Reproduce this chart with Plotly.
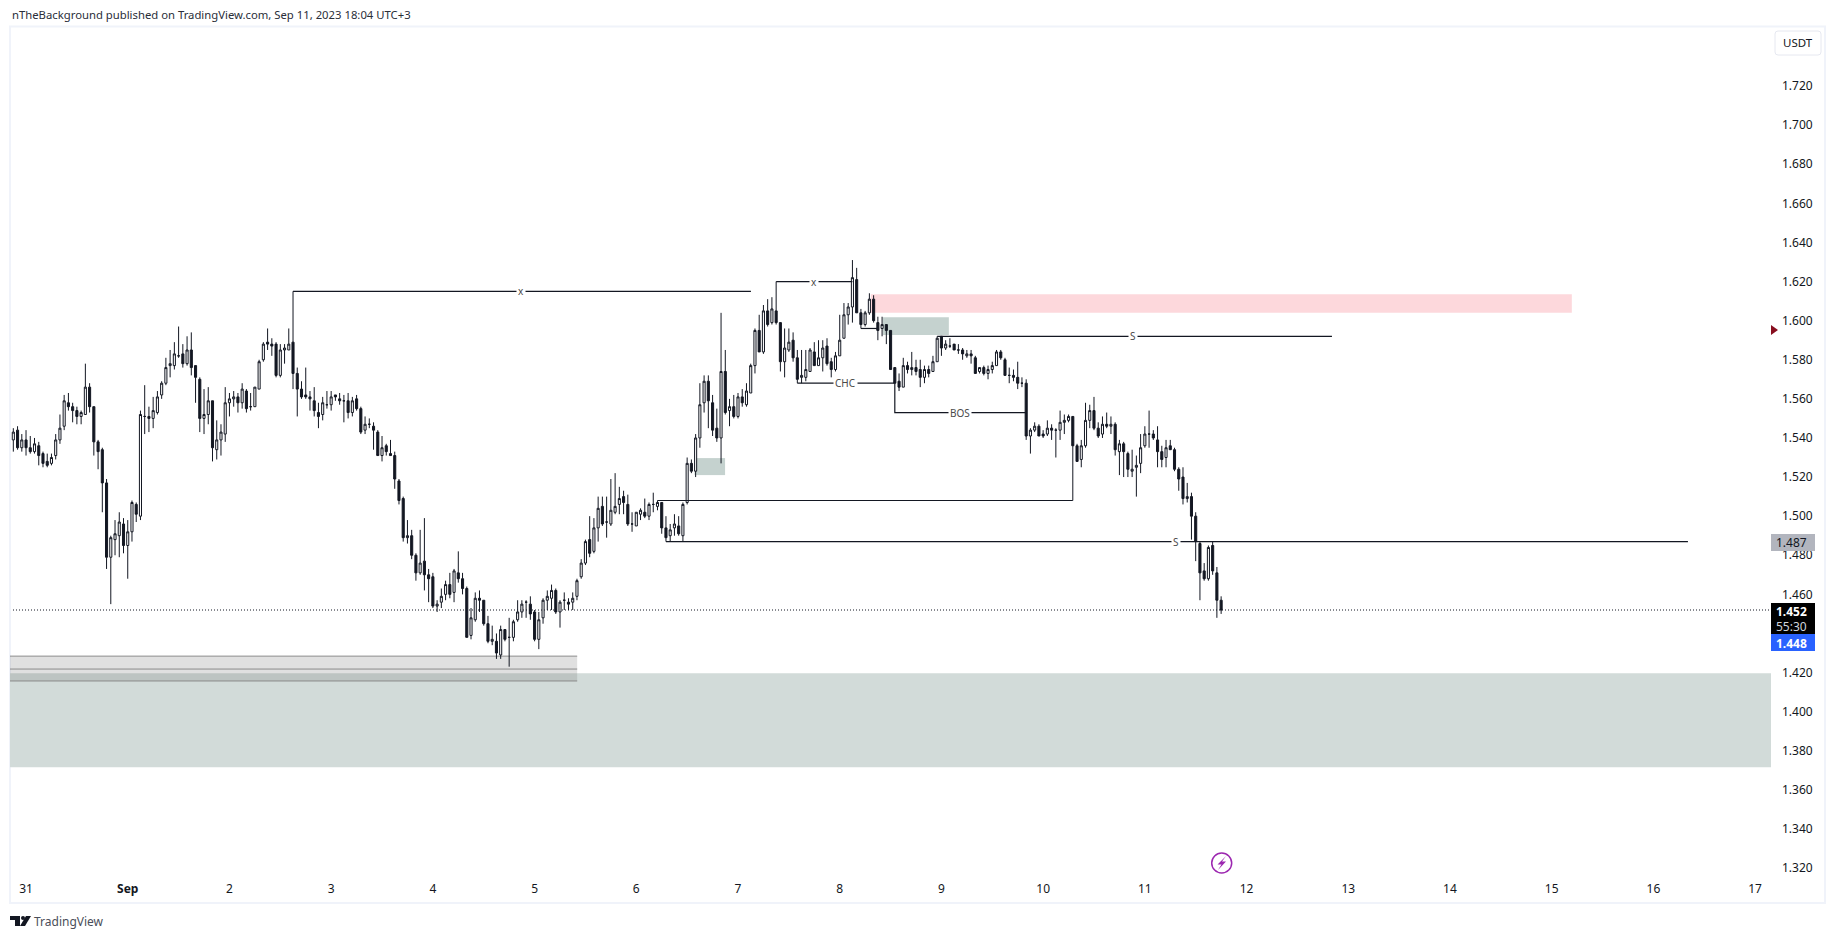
import pandas as pd
import plotly.graph_objects as go

W, H = 1835, 939
FONT = "Noto Sans"
INK = "#131722"

# Hourly candles, Aug 30 21:00 to Sep 11 18:00 (2023), USDT
start_time = "2023-08-30 21:00"
open_ = [
1.539,1.544,1.535,1.539,1.535,1.533,1.536,1.532,1.528,1.527,
1.531,1.539,1.546,1.558,1.556,1.554,1.551,1.552,1.566,1.556,
1.538,1.534,1.517,1.479,1.488,1.490,1.496,1.485,1.492,1.506,
1.500,1.551,1.551,1.550,1.553,1.562,1.568,1.577,1.577,1.582,
1.583,1.578,1.585,1.577,1.570,1.550,1.552,1.559,1.534,1.539,
1.542,1.558,1.560,1.561,1.558,1.564,1.556,1.556,1.565,1.580,
1.589,1.588,1.588,1.572,1.585,1.585,1.589,1.573,1.565,1.562,
1.561,1.559,1.553,1.552,1.557,1.557,1.562,1.560,1.559,1.559,
1.553,1.560,1.555,1.544,1.547,1.546,1.543,1.531,1.536,1.532,
1.531,1.518,1.509,1.489,1.490,1.480,1.471,1.477,1.470,1.469,
1.454,1.456,1.460,1.465,1.461,1.471,1.468,1.463,1.439,1.447,
1.458,1.457,1.445,1.436,1.436,1.429,1.442,1.438,1.438,1.447,
1.451,1.456,1.455,1.451,1.437,1.448,1.457,1.458,1.462,1.451,
1.457,1.456,1.456,1.459,1.469,1.476,1.488,1.482,1.494,1.505,
1.497,1.496,1.502,1.506,1.510,1.506,1.496,1.495,1.501,1.502,
1.500,1.506,1.505,1.507,1.494,1.490,1.494,1.495,1.490,1.507,
1.527,1.523,1.540,1.558,1.569,1.558,1.545,1.540,1.574,1.554,
1.556,1.551,1.561,1.557,1.563,1.577,1.595,1.584,1.605,1.599,
1.605,1.599,1.579,1.585,1.590,1.581,1.571,1.571,1.574,1.584,
1.577,1.581,1.587,1.579,1.575,1.582,1.591,1.603,1.607,1.621,
1.604,1.598,1.604,1.611,1.599,1.596,1.598,1.595,1.576,1.569,
1.566,1.577,1.575,1.576,1.575,1.571,1.575,1.574,1.579,1.592,
1.586,1.587,1.588,1.585,1.585,1.582,1.583,1.581,1.574,1.576,
1.573,1.575,1.577,1.584,1.580,1.572,1.572,1.571,1.568,1.568,
1.541,1.544,1.546,1.542,1.542,1.545,1.544,1.544,1.548,1.549,
1.551,1.536,1.529,1.536,1.549,1.554,1.545,1.542,1.547,1.546,
1.547,1.533,1.537,1.532,1.523,1.525,1.527,1.536,1.542,1.542,
1.539,1.533,1.530,1.536,1.534,1.524,1.520,1.509,1.510,1.500,
1.486,1.472,1.468,1.485,1.471,1.457]
high = [
1.545,1.546,1.542,1.544,1.541,1.540,1.538,1.533,1.532,1.532,
1.542,1.552,1.562,1.563,1.558,1.556,1.554,1.578,1.568,1.556,
1.539,1.535,1.519,1.490,1.498,1.502,1.499,1.498,1.508,1.507,
1.554,1.567,1.556,1.561,1.564,1.569,1.581,1.585,1.589,1.597,
1.588,1.592,1.594,1.577,1.571,1.565,1.566,1.559,1.549,1.547,
1.566,1.563,1.564,1.563,1.568,1.565,1.563,1.566,1.580,1.589,
1.596,1.591,1.589,1.588,1.588,1.596,1.615,1.576,1.569,1.576,
1.564,1.566,1.558,1.561,1.564,1.564,1.562,1.563,1.562,1.563,
1.561,1.562,1.556,1.551,1.550,1.548,1.544,1.541,1.537,1.539,
1.533,1.519,1.510,1.498,1.493,1.481,1.493,1.499,1.473,1.471,
1.457,1.463,1.467,1.471,1.473,1.482,1.471,1.464,1.453,1.461,
1.462,1.457,1.449,1.444,1.440,1.444,1.442,1.448,1.447,1.457,
1.457,1.457,1.459,1.452,1.451,1.458,1.462,1.465,1.463,1.457,
1.461,1.458,1.461,1.468,1.478,1.488,1.500,1.499,1.510,1.510,
1.510,1.519,1.522,1.515,1.513,1.511,1.502,1.502,1.504,1.509,
1.507,1.512,1.508,1.507,1.500,1.496,1.501,1.500,1.507,1.530,
1.529,1.542,1.568,1.572,1.572,1.562,1.555,1.604,1.585,1.560,
1.562,1.563,1.565,1.568,1.578,1.596,1.603,1.608,1.611,1.612,
1.620,1.599,1.596,1.596,1.594,1.585,1.585,1.585,1.586,1.589,
1.590,1.590,1.591,1.581,1.584,1.603,1.609,1.609,1.631,1.627,
1.606,1.605,1.614,1.613,1.602,1.602,1.598,1.595,1.576,1.573,
1.581,1.579,1.584,1.580,1.580,1.577,1.577,1.582,1.592,1.592,
1.590,1.591,1.588,1.588,1.586,1.585,1.585,1.582,1.576,1.577,
1.577,1.579,1.585,1.585,1.581,1.576,1.575,1.579,1.571,1.570,
1.545,1.548,1.547,1.544,1.549,1.547,1.545,1.554,1.552,1.552,
1.551,1.537,1.539,1.558,1.557,1.561,1.548,1.551,1.553,1.551,
1.548,1.539,1.538,1.533,1.534,1.531,1.542,1.546,1.554,1.544,
1.546,1.536,1.539,1.539,1.535,1.525,1.525,1.517,1.512,1.502,
1.487,1.476,1.485,1.487,1.474,1.459]
low = [
1.533,1.534,1.533,1.531,1.532,1.532,1.526,1.525,1.525,1.526,
1.529,1.537,1.544,1.554,1.548,1.547,1.547,1.552,1.553,1.531,
1.524,1.502,1.473,1.455,1.480,1.479,1.481,1.468,1.487,1.497,
1.498,1.542,1.543,1.545,1.552,1.560,1.567,1.571,1.575,1.581,
1.576,1.577,1.572,1.558,1.543,1.542,1.547,1.528,1.529,1.531,
1.538,1.551,1.556,1.553,1.555,1.553,1.554,1.556,1.565,1.579,
1.585,1.582,1.571,1.571,1.578,1.585,1.565,1.551,1.560,1.560,
1.554,1.551,1.545,1.549,1.555,1.554,1.559,1.557,1.548,1.550,
1.551,1.554,1.542,1.542,1.545,1.534,1.531,1.528,1.531,1.531,
1.514,1.506,1.487,1.486,1.478,1.467,1.470,1.462,1.456,1.453,
1.451,1.453,1.457,1.458,1.456,1.466,1.460,1.438,1.437,1.446,
1.451,1.444,1.435,1.434,1.427,1.427,1.436,1.423,1.436,1.446,
1.448,1.448,1.447,1.436,1.432,1.445,1.452,1.452,1.450,1.443,
1.452,1.452,1.452,1.457,1.468,1.475,1.479,1.481,1.487,1.495,
1.489,1.495,1.501,1.501,1.501,1.495,1.492,1.495,1.498,1.499,
1.498,1.502,1.503,1.491,1.487,1.487,1.490,1.490,1.487,1.506,
1.522,1.520,1.535,1.553,1.545,1.541,1.538,1.527,1.552,1.546,
1.550,1.550,1.556,1.556,1.563,1.573,1.584,1.583,1.597,1.598,
1.598,1.574,1.571,1.584,1.579,1.568,1.568,1.569,1.574,1.577,
1.577,1.574,1.577,1.571,1.574,1.582,1.591,1.598,1.599,1.604,
1.596,1.597,1.603,1.599,1.590,1.592,1.588,1.575,1.568,1.564,
1.566,1.573,1.572,1.572,1.566,1.568,1.571,1.574,1.579,1.582,
1.585,1.586,1.585,1.583,1.580,1.581,1.578,1.573,1.573,1.572,
1.570,1.573,1.577,1.580,1.572,1.568,1.569,1.565,1.566,1.539,
1.532,1.543,1.541,1.540,1.541,1.539,1.530,1.539,1.542,1.548,
1.508,1.528,1.525,1.535,1.545,1.544,1.540,1.540,1.545,1.542,
1.531,1.521,1.520,1.520,1.520,1.510,1.522,1.535,1.535,1.539,
1.525,1.525,1.525,1.534,1.523,1.513,1.506,1.507,1.488,1.477,
1.457,1.467,1.467,1.470,1.448,1.450]
close = [
1.543,1.535,1.539,1.535,1.533,1.537,1.531,1.527,1.526,1.530,
1.539,1.545,1.559,1.556,1.554,1.551,1.553,1.566,1.556,1.538,
1.533,1.517,1.479,1.489,1.491,1.497,1.485,1.492,1.507,1.501,
1.552,1.551,1.550,1.554,1.561,1.568,1.576,1.578,1.583,1.582,
1.578,1.585,1.576,1.571,1.550,1.552,1.559,1.535,1.539,1.543,
1.558,1.560,1.561,1.558,1.565,1.555,1.556,1.566,1.579,1.588,
1.588,1.587,1.572,1.585,1.586,1.588,1.573,1.565,1.561,1.561,
1.560,1.554,1.551,1.558,1.557,1.561,1.561,1.559,1.559,1.553,
1.559,1.555,1.543,1.547,1.547,1.544,1.531,1.535,1.533,1.531,
1.519,1.508,1.489,1.490,1.480,1.471,1.476,1.470,1.468,1.454,
1.455,1.459,1.465,1.460,1.472,1.468,1.463,1.438,1.448,1.458,
1.457,1.445,1.436,1.437,1.430,1.442,1.437,1.438,1.446,1.451,
1.455,1.456,1.450,1.437,1.447,1.457,1.459,1.462,1.451,1.456,
1.457,1.455,1.458,1.467,1.476,1.487,1.481,1.494,1.504,1.496,
1.497,1.503,1.505,1.509,1.507,1.496,1.496,1.502,1.503,1.500,
1.506,1.506,1.507,1.494,1.489,1.493,1.496,1.491,1.506,1.527,
1.523,1.540,1.557,1.569,1.559,1.544,1.540,1.574,1.553,1.556,
1.551,1.561,1.558,1.564,1.577,1.595,1.584,1.605,1.598,1.606,
1.599,1.579,1.586,1.589,1.581,1.570,1.572,1.575,1.585,1.577,
1.581,1.586,1.578,1.575,1.582,1.590,1.603,1.607,1.622,1.604,
1.598,1.604,1.611,1.600,1.595,1.598,1.595,1.575,1.568,1.566,
1.577,1.575,1.576,1.574,1.571,1.575,1.573,1.579,1.591,1.586,
1.588,1.587,1.585,1.585,1.583,1.583,1.582,1.573,1.576,1.573,
1.575,1.577,1.584,1.581,1.572,1.572,1.571,1.568,1.568,1.541,
1.544,1.546,1.541,1.541,1.545,1.544,1.544,1.548,1.549,1.551,
1.536,1.528,1.536,1.549,1.554,1.545,1.541,1.547,1.546,1.547,
1.534,1.537,1.533,1.524,1.524,1.526,1.535,1.542,1.542,1.540,
1.533,1.529,1.535,1.534,1.524,1.519,1.509,1.510,1.500,1.487,
1.471,1.468,1.484,1.472,1.457,1.452]

# Axis labels
date_ticks = ["2023-08-31", "2023-09-01", "2023-09-02", "2023-09-03", "2023-09-04", "2023-09-05",
              "2023-09-06", "2023-09-07", "2023-09-08", "2023-09-09", "2023-09-10", "2023-09-11",
              "2023-09-12", "2023-09-13", "2023-09-14", "2023-09-15", "2023-09-16", "2023-09-17"]
date_labels = ["31", "<b>Sep</b>", "2", "3", "4", "5", "6", "7", "8", "9", "10", "11", "12", "13", "14", "15", "16", "17"]
price_ticks = [1.72, 1.70, 1.68, 1.66, 1.64, 1.62, 1.60, 1.58, 1.56, 1.54, 1.52, 1.50, 1.48, 1.46,
               1.42, 1.40, 1.38, 1.36, 1.34, 1.32]
x_range = ["2023-08-30 20:13", "2023-09-17 03:45"]
y_range = [1.3139, 1.7502]

# Drawn levels: (x points, price points)
level_lines = [
    (["2023-09-02 15:00", "2023-09-07 03:03"], [1.615, 1.615]),
    (["2023-09-07 09:00", "2023-09-08 03:00"], [1.620, 1.620]),
    (["2023-09-07 14:00", "2023-09-08 13:00"], [1.568, 1.568]),
    (["2023-09-08 05:00", "2023-09-08 09:00"], [1.596, 1.596]),
    (["2023-09-08 13:00", "2023-09-08 13:00", "2023-09-09 20:00"], [1.568, 1.553, 1.553]),
    (["2023-09-08 23:00", "2023-09-12 20:09"], [1.592, 1.592]),
    (["2023-09-06 05:00", "2023-09-10 07:00"], [1.508, 1.508]),
    (["2023-09-06 07:00", "2023-09-16 08:09"], [1.487, 1.487]),
]
level_texts = [
    ("2023-09-04 20:45", 1.615, "x"),
    ("2023-09-07 17:57", 1.620, "x"),
    ("2023-09-08 01:27", 1.568, "CHC"),
    ("2023-09-09 04:21", 1.553, "BOS"),
    ("2023-09-10 21:09", 1.592, "S"),
    ("2023-09-11 07:21", 1.487, "S"),
]
# Zones: (start, end, low price, high price, fill)
zones = [
    ("2023-08-30 20:13", "2023-09-17 03:45", 1.3716, 1.4197, "#D2DBD9"),
    ("2023-09-08 07:21", "2023-09-15 04:45", 1.6040, 1.6135, "#FDD8DC"),
    ("2023-09-08 10:09", "2023-09-09 01:45", 1.5926, 1.6018, "#C5D2CF"),
    ("2023-09-06 13:45", "2023-09-06 20:57", 1.5210, 1.5297, "#C5D2CF"),
]
range_box = ("2023-08-30 20:13", "2023-09-05 10:03", [1.4284, 1.4218, 1.4157])
last_price = 1.452
level_price = 1.487
low_price = 1.448


def px(x):
    return x / W


def py(y):
    return 1 - y / H


times = pd.date_range(start_time, periods=len(close), freq="h")

fig = go.Figure()
fig.add_trace(go.Candlestick(
    x=times, open=open_, high=high, low=low, close=close,
    increasing=dict(line=dict(color=INK, width=1), fillcolor="#FFFFFF"),
    decreasing=dict(line=dict(color=INK, width=1), fillcolor=INK),
    whiskerwidth=0, hoverinfo="skip", showlegend=False,
))
for xs, ys in level_lines:
    fig.add_trace(go.Scatter(x=xs, y=ys, mode="lines", line=dict(color=INK, width=1.2),
                             hoverinfo="skip", showlegend=False))

shapes = []
for x0, x1, y0, y1, color in zones:
    shapes.append(dict(type="rect", xref="x", yref="y", x0=x0, x1=x1, y0=y0, y1=y1,
                       fillcolor=color, line=dict(width=0), layer="below"))
bx0, bx1, levels = range_box
shapes.append(dict(type="rect", xref="x", yref="y", x0=bx0, x1=bx1, y0=levels[2], y1=levels[0],
                   fillcolor="rgba(120,120,120,0.23)", line=dict(width=0), layer="below"))
for lv in levels:
    shapes.append(dict(type="line", xref="x", yref="y", x0=bx0, x1=bx1, y0=lv, y1=lv,
                       line=dict(color="#8A8A8A", width=1), layer="below"))
shapes.append(dict(type="line", xref="x domain", yref="y", x0=0, x1=1, y0=last_price, y1=last_price,
                   line=dict(color=INK, width=1, dash="1px,2px"), layer="below"))
# Frame of the chart
shapes.append(dict(type="rect", xref="paper", yref="paper", x0=px(10), x1=px(1825), y0=py(903), y1=py(26.5),
                   line=dict(color="#F0F3FA", width=2), fillcolor="rgba(0,0,0,0)", layer="below"))
# USDT button
shapes.append(dict(type="path", xref="paper", yref="paper",
                   path=f"M{px(1778)},{py(31)} L{px(1818)},{py(31)} Q{px(1821)},{py(31)} {px(1821)},{py(34)} "
                        f"L{px(1821)},{py(52)} Q{px(1821)},{py(55)} {px(1818)},{py(55)} L{px(1778)},{py(55)} "
                        f"Q{px(1775)},{py(55)} {px(1775)},{py(52)} L{px(1775)},{py(34)} Q{px(1775)},{py(31)} {px(1778)},{py(31)} Z",
                   line=dict(color="#E6E8F0", width=1), fillcolor="#FFFFFF"))
# Price axis badges
for y0, y1, color in [(534, 551, "#B2B5BE"), (603, 634, "#000000"), (634, 651, "#2962FF")]:
    shapes.append(dict(type="rect", xref="paper", yref="paper", x0=px(1771), x1=px(1815), y0=py(y1), y1=py(y0),
                       fillcolor=color, line=dict(width=0)))
# Arrow marker on the price axis
shapes.append(dict(type="path", xref="paper", yref="paper",
                   path=f"M{px(1771)},{py(325)} L{px(1778)},{py(330)} L{px(1771)},{py(335)} Z",
                   fillcolor="#880E1F", line=dict(width=0)))
# Lightning icon
shapes.append(dict(type="circle", xref="paper", yref="paper", x0=px(1211.7), x1=px(1231.7), y0=py(873), y1=py(853),
                   line=dict(color="#9C27B0", width=1.5), fillcolor="#FFFFFF"))
bolt = [(1226, 856), (1217.5, 864.5), (1221.5, 864.5), (1218, 870), (1226, 861.5), (1222, 861.5)]
shapes.append(dict(type="path", xref="paper", yref="paper",
                   path="M" + " L".join(f"{px(a)},{py(b)}" for a, b in bolt) + " Z",
                   fillcolor="#9C27B0", line=dict(width=0)))
# TradingView logo
logo = [
    [(10, 916), (20, 916), (20, 926), (15, 926), (15, 920), (10, 920)],
    [(26, 916), (31, 916), (25, 926), (20, 926)],
]
for poly in logo:
    shapes.append(dict(type="path", xref="paper", yref="paper",
                       path="M" + " L".join(f"{px(a)},{py(b)}" for a, b in poly) + " Z",
                       fillcolor="#131722", line=dict(width=0)))
shapes.append(dict(type="circle", xref="paper", yref="paper", x0=px(21), x1=px(25), y0=py(920), y1=py(916),
                   fillcolor="#131722", line=dict(width=0)))

annotations = []
for x, y, text in level_texts:
    annotations.append(dict(x=x, y=y, xref="x", yref="y", text=text, showarrow=False,
                            font=dict(family=FONT, size=10, color="#4A4A4A"), bgcolor="#FFFFFF",
                            borderpad=1))


def note(x, y, text, size=12, color=INK, anchor="left"):
    annotations.append(dict(x=px(x), y=py(y), xref="paper", yref="paper", text=text, showarrow=False,
                            xanchor=anchor, yanchor="middle", font=dict(family=FONT, size=size, color=color)))


note(10, 15, "nTheBackground published on TradingView.com, Sep 11, 2023 18:04 UTC+3", 11.3, "#2A2E39")
note(1798, 43, "USDT", 11.5, INK, "center")
note(1809, 542.5, f"{level_price:.3f}", 12, INK, "right")
note(1809, 611, f"<b>{last_price:.3f}</b>", 12, "#FFFFFF", "right")
note(1809, 626, "55:30", 12, "#D1D4DC", "right")
note(1809, 643, f"<b>{low_price:.3f}</b>", 12, "#FFFFFF", "right")
note(32, 921, "TradingView", 12, "#4A4E59")

fig.update_layout(
    width=W, height=H, margin=dict(l=0, r=0, t=0, b=0),
    paper_bgcolor="#FFFFFF", plot_bgcolor="#FFFFFF", showlegend=False, hovermode=False,
    shapes=shapes, annotations=annotations,
    font=dict(family=FONT, size=12, color=INK),
    xaxis=dict(domain=[px(10), px(1771)], range=x_range, type="date", rangeslider=dict(visible=False),
               tickmode="array", tickvals=date_ticks, ticktext=date_labels, showgrid=False, zeroline=False,
               showline=False, ticks="", tickfont=dict(family=FONT, size=12, color=INK)),
    yaxis=dict(domain=[py(880), py(27)], range=y_range, side="right", tickmode="array",
               tickvals=price_ticks, ticktext=[f"{v:.3f}" for v in price_ticks], showgrid=False,
               zeroline=False, showline=False, ticks="", ticklabelstandoff=10,
               tickfont=dict(family=FONT, size=12, color=INK)),
)

fig.write_html("out.html", config={"displayModeBar": False},
               post_script="document.body.style.margin='0';document.body.style.overflow='hidden';")
